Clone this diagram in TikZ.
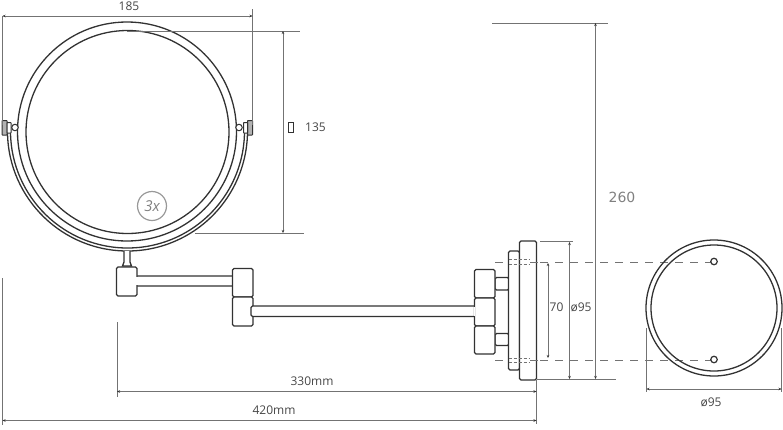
\documentclass[tikz,border=0pt]{standalone}
\usepackage{fontspec}
\setmainfont{Open Sans}
\newfontfamily\widefont{DejaVu Sans}
\usetikzlibrary{arrows.meta}
\definecolor{inkgrey}{RGB}{50,50,50}
\definecolor{dimgrey}{RGB}{115,115,115}
\definecolor{labelgrey}{RGB}{70,70,70}
\tikzset{
  part/.style={draw=inkgrey,line width=1.3pt,rounded corners=1.5pt,fill=white},
  knob/.style={draw=inkgrey,line width=1pt,rounded corners=0.5pt,fill=gray!60},
  ring/.style={draw=inkgrey,line width=1.3pt},
  extline/.style={draw=dimgrey,line width=0.8pt},
  dimline/.style={draw=dimgrey,line width=0.8pt,{Stealth[length=3pt,width=2.5pt,inkgrey]}-{Stealth[length=3pt,width=2.5pt,inkgrey]}},
  hidden/.style={draw=dimgrey,line width=0.9pt,dash pattern=on 8pt off 7pt},
  hiddenin/.style={draw=dimgrey,line width=0.6pt,dash pattern=on 3pt off 2pt},
  hole/.style={circle,draw=inkgrey,line width=1.2pt,fill=white,inner sep=0pt,minimum size=6.5pt},
  dimlabel/.style={text=labelgrey,font=\fontsize{12}{14}\selectfont,inner sep=0pt}
}
\begin{document}
\begin{tikzpicture}[x=1pt,y=-1pt]
\useasboundingbox (0,0) rectangle (783,429);
% hidden lines to the wall plate
\draw[hidden] (495,262) -- (714,262);
\draw[hidden] (495,360) -- (714,360);
% mirror with its yoke
\draw[ring] (127.5,131) ++(182:120) arc[start angle=182,end angle=-2,radius=120];
\draw[ring] (127.5,131) ++(182:117) arc[start angle=182,end angle=-2,radius=117];
\draw[ring] (127,131.5) circle[radius=109.5];
\draw[ring] (127.5,132) circle[radius=101.5];
% pivots
\draw[knob] (2,120.5) rectangle (7,135);
\draw[part,line width=1pt,rounded corners=0.5pt] (7,122.5) rectangle (11,133);
\node[hole,line width=1pt] (pivotL) at (15,127.5) {};
\draw[knob] (247.5,120.5) rectangle (252.5,135);
\draw[part,line width=1pt,rounded corners=0.5pt] (243.5,122.5) rectangle (247.5,133);
\node[hole,line width=1pt] (pivotR) at (239,127.5) {};
% 3x mark
\node[circle,draw=gray!80,line width=1.2pt,minimum size=29pt,inner sep=0pt,text=gray,font=\itshape\fontsize{15}{15}\selectfont] (mark) at (152,206) {3x};
% stem and swing arm
\draw[part,rounded corners=0pt] (124,251) -- (124,262) -- (122.5,266) -- (131.5,266) -- (130,262) -- (130,251);
\draw[part] (135,276) rectangle (235,286);
\draw[part] (232.5,268.5) rectangle (253,297);
\draw[part] (232.5,297) rectangle (253,326);
\draw[part] (116.5,267) rectangle (137,296);
\draw[draw=white,line width=1.5pt] (137,277) -- (137,285);
\draw[part] (251,306) rectangle (478,316.5);
% wall bracket
\draw[part] (495,277.5) rectangle (509,290);
\draw[part] (495,333.5) rectangle (509,345.5);
\draw[part] (474.5,269.5) rectangle (495,298);
\draw[part] (474.5,298) rectangle (495,326);
\draw[part] (474.5,326) rectangle (495,354);
\draw[draw=white,line width=1.5pt] (474.5,307) -- (474.5,316);
\draw[part] (508.5,251) rectangle (519.5,370);
\draw[part] (519.5,241) rectangle (536.5,380);
\draw[hiddenin] (508.5,259.5) -- (530,259.5);
\draw[hiddenin] (508.5,264) -- (530,264);
\draw[hiddenin] (508.5,358) -- (530,358);
\draw[hiddenin] (508.5,362) -- (530,362);
\draw[hidden] (530,262) -- (540,262);
\draw[hidden] (530,360) -- (540,360);
% wall plate from the front
\draw[ring] (714,308) circle[radius=68];
\draw[ring] (714,308) circle[radius=63];
\node[hole] (holeA) at (714,261.5) {};
\node[hole] (holeB) at (714,359.5) {};
% dimension ends
\coordinate (w1) at (2.5,16);
\coordinate (w2) at (252.5,16);
\coordinate (h1) at (283,31);
\coordinate (h2) at (283,233);
\coordinate (d1) at (548,263);
\coordinate (d2) at (548,358);
\coordinate (e1) at (569.5,242);
\coordinate (e2) at (569.5,379);
\coordinate (t1) at (595.5,23);
\coordinate (t2) at (595.5,379);
\coordinate (f1) at (646.5,389);
\coordinate (f2) at (781.5,389);
\coordinate (a1) at (117,391.5);
\coordinate (a2) at (536.5,391.5);
\coordinate (b1) at (2.5,420.5);
\coordinate (b2) at (536.5,420.5);
% extension lines
\draw[extline] (w1) -- (2.5,125);
\draw[extline] (252.5,9) -- (252.5,125);
\draw[extline] (127,31) -- (300,31);
\draw[extline] (195,233) -- (304,233);
\draw[extline] (540,241) -- (573,241);
\draw[extline] (536.5,379) -- (616,379);
\draw[extline] (492,23) -- (608,23);
\draw[extline] (646.5,328) -- (646.5,392);
\draw[extline] (781.5,328) -- (781.5,392);
\draw[extline] (117,322) -- (117,397);
\draw[extline] (536.5,380) -- (536.5,424);
\draw[extline] (2.5,278) -- (2.5,425);
% dimensions
\draw[dimline] (w1) -- (w2);
\draw[dimline] (h1) -- (h2);
\draw[dimline] (d1) -- (d2);
\draw[dimline] (e1) -- (e2);
\draw[dimline] (t1) -- (t2);
\draw[dimline] (f1) -- (f2);
\draw[dimline] (a1) -- (a2);
\draw[dimline] (b1) -- (b2);
% labels
\node[dimlabel] (w) at (129,6) {185};
\node[dimlabel] (hh) at (315.5,127.5) {135};
\node[draw=inkgrey,line width=0.9pt,minimum width=4.5pt,minimum height=10pt,inner sep=0pt] (box) at (291,127) {};
\node[dimlabel] (d) at (556.5,307) {70};
\node[dimlabel] (e) at (581,307) {ø95};
\node[dimlabel,text=gray,font=\widefont\fontsize{14}{16}\selectfont] (t) at (622,197) {260};
\node[dimlabel] (f) at (711,402) {ø95};
\node[dimlabel] (a) at (312,381) {330mm};
\node[dimlabel] (b) at (274,410) {420mm};
\end{tikzpicture}
\end{document}
